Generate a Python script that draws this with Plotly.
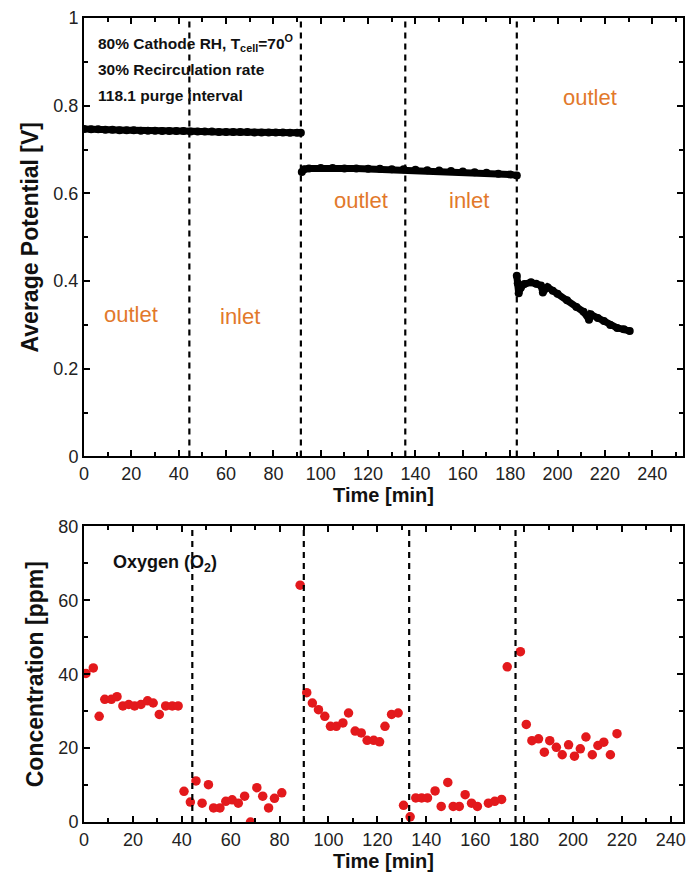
import plotly.graph_objects as go

# ---- Average potential (top panel) ----
t_seg1 = [0, 3, 6, 9, 12, 15, 18, 21, 24, 27, 30, 33, 36, 39, 42, 45, 48, 51, 54, 57,
          60, 63, 66, 69, 72, 75, 78, 81, 84, 87, 90, 91.6]
v_seg1 = [0.747, 0.746, 0.746, 0.745, 0.745, 0.744, 0.744, 0.744, 0.743, 0.743, 0.743,
          0.742, 0.742, 0.742, 0.742, 0.741, 0.741, 0.741, 0.741, 0.740, 0.740, 0.740,
          0.740, 0.740, 0.739, 0.739, 0.739, 0.739, 0.739, 0.738, 0.738, 0.738]

t_seg2 = [92, 93, 95, 100, 105, 110, 115, 120, 125, 130, 135, 140, 145, 150, 155, 160,
          165, 170, 175, 180, 182.8]
v_seg2 = [0.649, 0.655, 0.657, 0.658, 0.658, 0.657, 0.657, 0.656, 0.656, 0.655, 0.655,
          0.654, 0.653, 0.652, 0.651, 0.650, 0.648, 0.647, 0.645, 0.643, 0.641]

t_seg3 = [182.8, 183.2, 183.6, 184.5, 186, 188.8, 191, 193, 193.8, 195.8, 198, 200, 204,
          208, 211, 213.3, 214, 217, 219.6, 222.3, 225.2, 228, 230.5]
v_seg3 = [0.412, 0.395, 0.372, 0.385, 0.393, 0.397, 0.394, 0.390, 0.374, 0.386, 0.378,
          0.371, 0.356, 0.341, 0.330, 0.312, 0.324, 0.316, 0.309, 0.300, 0.293, 0.290, 0.286]

switch_top = [44.5, 91.6, 135.7, 182.8]

mode_labels = ["outlet", "inlet", "outlet", "inlet", "outlet"]
mode_label_t = [19.7, 66, 116.8, 162.6, 213.9]
mode_label_v = [0.323, 0.319, 0.583, 0.583, 0.818]

condition_lines = ["80% Cathode RH, T<sub>cell</sub>=70<sup>O</sup>",
                   "30% Recirculation rate",
                   "118.1 purge interval"]

# ---- Oxygen concentration (bottom panel) ----
t_o2 = [0.8, 3.8, 6.2, 8.5, 11.2, 13.5, 15.9, 18.3, 20.7, 23.3, 26, 28.3, 30.8, 33.4,
        36.1, 38.5, 40.9, 43.5, 45.8, 48.3, 50.9, 53, 55.6, 58, 60.6, 63.1, 65.7, 68.1,
        70.7, 73.1, 75.5, 77.9, 80.9, 88.4, 91.1, 93.4, 95.9, 98.5, 100.8, 103.2, 105.9,
        108.2, 110.9, 113.4, 115.8, 118.5, 120.9, 123.1, 125.8, 128.5, 130.7, 133.4,
        135.7, 138.1, 140.5, 143.6, 146.1, 148.8, 151, 153.5, 155.9, 158.5, 160.9, 165.4,
        168, 170.8, 173.1, 178.5, 180.9, 183.2, 185.9, 188.3, 190.5, 193.2, 195.6, 198.2,
        200.6, 203, 205.3, 207.9, 210.2, 212.6, 215.3, 218]
c_o2 = [40.2, 41.7, 28.6, 33.2, 33.2, 33.9, 31.4, 31.8, 31.4, 31.8, 32.8, 32.2, 29.1,
        31.4, 31.4, 31.4, 8.3, 5.4, 11.1, 5.1, 10.1, 3.8, 3.8, 5.6, 6.0, 5.1, 7.0, 0.0,
        9.3, 7.0, 3.8, 6.4, 7.9, 64.1, 35.0, 32.2, 30.4, 28.6, 25.9, 25.9, 26.8, 29.5,
        24.6, 24.1, 22.1, 22.1, 21.7, 25.9, 29.1, 29.5, 4.5, 1.4, 6.5, 6.5, 6.5, 8.4,
        4.2, 10.7, 4.2, 4.2, 7.4, 5.1, 4.2, 5.1, 5.6, 6.1, 42.0, 46.1, 26.4, 22.0, 22.5,
        18.9, 22.0, 20.2, 18.2, 20.9, 17.8, 19.8, 23.0, 18.2, 20.7, 21.6, 18.2, 23.9]

switch_bottom = [44.3, 89.9, 133.0, 176.5]

FONT = "Liberation Sans, Arial, sans-serif"
ORANGE = "#E2792B"
DASH = dict(color="black", width=2.2, dash="6px,5px")

fig = go.Figure()

for t, v in [(t_seg1, v_seg1), (t_seg2, v_seg2), (t_seg3, v_seg3)]:
    fig.add_trace(go.Scatter(x=t, y=v, mode="lines+markers",
                             line=dict(color="black", width=7),
                             marker=dict(color="black", size=8),
                             xaxis="x", yaxis="y", showlegend=False))

for xs in switch_top:
    fig.add_trace(go.Scatter(x=[xs, xs], y=[0, 1], mode="lines", line=DASH,
                             xaxis="x", yaxis="y", showlegend=False))

fig.add_trace(go.Scatter(x=t_o2, y=c_o2, mode="markers",
                         marker=dict(color="#E3191C", size=9.5),
                         xaxis="x2", yaxis="y2", showlegend=False))

for xs in switch_bottom:
    fig.add_trace(go.Scatter(x=[xs, xs], y=[0, 80], mode="lines", line=DASH,
                             xaxis="x2", yaxis="y2", showlegend=False))

annotations = []
for txt, t, v in zip(mode_labels, mode_label_t, mode_label_v):
    annotations.append(dict(x=t, y=v, xref="x", yref="y", text=txt, showarrow=False,
                            font=dict(family=FONT, size=22, color=ORANGE)))

for i, line in enumerate(condition_lines):
    annotations.append(dict(x=5.0, y=0.942 - i * 0.059, xref="x", yref="y", text=f"<b>{line}</b>",
                            showarrow=False, xanchor="left",
                            font=dict(family=FONT, size=15.5, color="#111")))

annotations.append(dict(x=11, y=70, xref="x2", yref="y2", text="<b>Oxygen (O<sub>2</sub>)</b>",
                        showarrow=False, xanchor="left",
                        font=dict(family=FONT, size=18, color="#111")))

axis_common = dict(showline=True, linecolor="black", linewidth=2, mirror="ticks",
                   ticks="inside", ticklen=6, tickwidth=1.5, tickcolor="black",
                   showgrid=False, zeroline=False,
                   tickfont=dict(family=FONT, size=18, color="#222"))

fig.update_layout(
    width=694, height=881,
    margin=dict(l=84, r=8, t=17, b=59),
    paper_bgcolor="white", plot_bgcolor="white",
    annotations=annotations,
    xaxis=dict(domain=[0, 1], anchor="y", range=[0, 253], dtick=20, tick0=0,
               minor=dict(ticks="inside", dtick=10, ticklen=4, tickcolor="black"),
               title=dict(text="<b>Time [min]</b>", font=dict(family=FONT, size=20, color="#111"),
                          standoff=5),
               **axis_common),
    yaxis=dict(domain=[0.4547, 1], anchor="x", range=[0, 1], dtick=0.2,
               minor=dict(ticks="inside", dtick=0.1, ticklen=4, tickcolor="black"),
               title=dict(text="<b>Average Potential [V]</b>",
                          font=dict(family=FONT, size=23, color="#111"), standoff=8),
               **axis_common),
    xaxis2=dict(domain=[0, 1], anchor="y2", range=[0, 245], dtick=20, tick0=0,
                minor=dict(ticks="inside", dtick=10, ticklen=4, tickcolor="black"),
                title=dict(text="<b>Time [min]</b>", font=dict(family=FONT, size=20, color="#111"),
                           standoff=5),
                **axis_common),
    yaxis2=dict(domain=[0, 0.3677], anchor="x2", range=[0, 80], dtick=20,
                minor=dict(ticks="inside", dtick=10, ticklen=4, tickcolor="black"),
                title=dict(text="<b>Concentration [ppm]</b>",
                           font=dict(family=FONT, size=23, color="#111"), standoff=8),
                **axis_common),
)

fig.write_html("out.html")
